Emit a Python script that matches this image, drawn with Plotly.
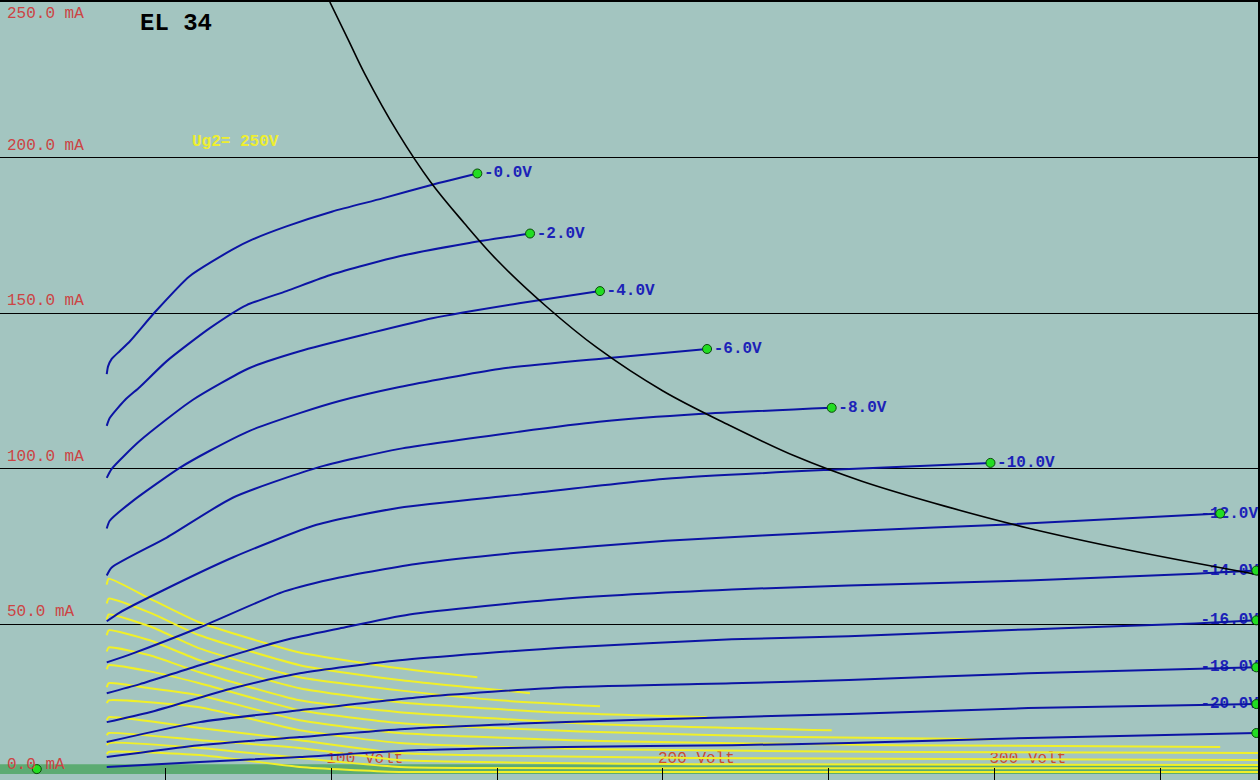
import plotly.graph_objects as go

# ---------------- data ----------------
GRID_VOLTS = [0, -2, -4, -6, -8, -10, -12, -14, -16, -18, -20, -22]

# anode current Ia (mA) versus anode voltage Va (V), Ug2 = 250 V
VA_G0 = [32.2, 32.6, 33.7, 36.1, 39.2, 46.7, 57.2, 70.2, 76.2, 86.4, 100.3, 115.4, 130.4, 144.0]
IA_G0 = [130.4, 132.9, 135.3, 137.8, 141.0, 150.3, 161.9, 170.5, 173.7, 177.9, 182.7, 186.9, 191.3, 194.9]
VA_G2 = [32.2, 33.1, 37.7, 42.2, 50.3, 63.3, 74.4, 86.4, 100.3, 120.5, 140.7, 159.9]
IA_G2 = [113.8, 116.3, 122.1, 126.3, 134.6, 145.2, 152.6, 157.1, 162.5, 168.3, 172.4, 175.6]
VA_G4 = [32.2, 33.7, 42.2, 58.1, 75.3, 90.4, 110.5, 130.4, 156.6, 181.0]
IA_G4 = [97.1, 100.0, 109.0, 122.1, 132.4, 137.8, 143.3, 148.4, 153.2, 157.1]
VA_G6 = [32.2, 33.1, 40.1, 54.2, 63.3, 75.3, 90.4, 102.4, 120.5, 150.6, 183.7, 213.3]
IA_G6 = [80.8, 83.3, 89.7, 100.3, 105.8, 112.2, 117.9, 121.8, 126.3, 132.1, 135.6, 138.5]
VA_G8 = [32.2, 33.7, 50.3, 70.2, 95.5, 120.5, 156.6, 180.7, 210.8, 250.9]
IA_G8 = [65.7, 68.3, 77.9, 90.7, 100.3, 106.4, 111.9, 115.1, 117.6, 119.6]
VA_G10 = [32.2, 36.1, 49.1, 70.2, 95.5, 120.5, 156.6, 200.9, 250.9, 298.8]
IA_G10 = [51.0, 53.8, 60.9, 71.5, 82.0, 87.5, 91.7, 96.8, 99.7, 101.9]
VA_G12 = [32.2, 40.1, 60.2, 85.8, 102.4, 126.5, 156.6, 200.9, 259.0, 304.2, 368.1]
IA_G12 = [37.8, 40.7, 49.0, 60.6, 65.1, 69.6, 73.1, 76.9, 80.1, 82.1, 85.6]
VA_G14 = [32.2, 42.2, 60.2, 85.8, 102.4, 123.5, 170.8, 220.8, 256.0, 310.2, 360.5, 379.0]
IA_G14 = [27.9, 30.8, 36.9, 44.9, 48.7, 53.2, 58.3, 61.2, 62.5, 64.1, 66.3, 67.3]
VA_G16 = [32.2, 45.2, 70.2, 90.4, 120.5, 170.8, 220.8, 256.0, 310.2, 360.5, 379.0]
IA_G16 = [18.6, 21.8, 29.5, 34.3, 38.5, 42.6, 45.2, 46.2, 48.4, 50.3, 51.3]
VA_G18 = [32.2, 60.2, 90.4, 126.5, 170.8, 220.8, 256.0, 310.2, 379.0]
IA_G18 = [12.2, 18.6, 22.4, 26.6, 29.8, 31.1, 32.1, 34.3, 36.2]
VA_G20 = [32.2, 60.2, 90.4, 126.5, 170.8, 220.8, 256.0, 310.2, 379.0]
IA_G20 = [7.4, 11.2, 13.8, 16.7, 18.6, 20.2, 21.2, 23.1, 24.4]
VA_G22 = [32.2, 60.2, 90.4, 126.5, 170.8, 220.8, 256.0, 310.2, 379.0]
IA_G22 = [4.2, 5.8, 7.4, 9.6, 10.6, 11.2, 11.9, 13.5, 15.1]

# screen-grid current Ig2 (mA) versus anode voltage Va (V)
YV_G0 = [32.2, 32.8, 45.2, 60.2, 90.4, 120.5, 144.0]
YI_G0 = [62.8, 64.7, 58.3, 50.6, 41.0, 35.9, 33.0]
YV_G2 = [32.2, 32.8, 45.2, 60.2, 90.4, 120.5, 159.9]
YI_G2 = [56.7, 58.3, 53.8, 46.5, 36.9, 32.1, 27.9]
YV_G4 = [32.2, 32.8, 45.2, 60.2, 90.4, 120.5, 150.6, 181.0]
YI_G4 = [51.6, 53.2, 49.4, 42.3, 33.0, 28.8, 25.6, 23.7]
YV_G6 = [32.2, 32.8, 45.2, 60.2, 90.4, 120.5, 165.7, 213.3]
YI_G6 = [46.5, 48.1, 44.9, 38.5, 29.5, 25.0, 21.8, 20.2]
YV_G8 = [32.2, 32.8, 45.2, 60.2, 90.4, 120.5, 180.7, 250.9]
YI_G8 = [41.3, 42.6, 40.1, 34.6, 25.6, 21.8, 17.9, 16.0]
YV_G10 = [32.2, 32.8, 45.2, 60.2, 90.4, 120.5, 180.7, 241.0, 298.8]
YI_G10 = [35.6, 36.9, 34.9, 31.1, 22.4, 18.3, 15.4, 13.8, 13.1]
YV_G12 = [32.2, 32.8, 45.2, 60.2, 90.4, 120.5, 180.7, 271.1, 368.1]
YI_G12 = [29.8, 31.1, 29.5, 27.2, 19.2, 15.1, 12.5, 11.2, 10.6]
YV_G14 = [32.2, 32.8, 60.2, 90.4, 120.5, 180.7, 271.1, 379.5]
YI_G14 = [24.7, 25.6, 23.4, 16.0, 11.9, 9.9, 9.0, 8.7]
YV_G16 = [32.2, 32.8, 60.2, 90.4, 120.5, 210.8, 379.5]
YI_G16 = [19.2, 20.2, 16.7, 12.8, 8.7, 7.1, 6.4]
YV_G18 = [32.2, 32.8, 60.2, 90.4, 120.5, 210.8, 379.5]
YI_G18 = [14.4, 15.1, 12.8, 10.3, 6.4, 5.1, 4.8]
YV_G20 = [32.2, 32.8, 60.2, 90.4, 120.5, 210.8, 379.5]
YI_G20 = [11.2, 11.9, 10.3, 7.1, 4.2, 3.8, 3.8]
YV_G22 = [32.2, 32.8, 60.2, 90.4, 120.5, 379.5]
YI_G22 = [8.3, 9.0, 8.0, 4.2, 2.6, 2.6]

# maximum anode dissipation curve
PMAX_V = [99.5, 105, 110, 120, 130, 140, 150, 165, 180, 200, 220, 240, 260, 285, 310, 340, 379.5]
PMAX_I = [250, 238, 227, 208, 192, 179, 167, 152, 139, 125, 114, 104, 96, 88, 81, 74, 66]

# stray marker near the origin
LONE_DOT_V = [11.1]
LONE_DOT_I = [3.5]

X_TICK_VALUES = [100, 200, 300]
X_TICK_LABELS = ["100 Volt", "200 Volt", "300 Volt"]
Y_TICK_VALUES = [0, 50, 100, 150, 200, 250]
Y_TICK_LABELS = ["0.0 mA", "50.0 mA", "100.0 mA", "150.0 mA", "200.0 mA", "250.0 mA"]

TITLE = "EL 34"
SCREEN_TEXT = "Ug2= 250V"

# ---------------- styling ----------------
X_MAX = 379.5
Y_MAX = 250
BG = "#a3c5c0"
BLUE = "#0c14a4"
LABEL_BLUE = "#1c22b8"
YELLOW = "#f0f028"
RED = "#cc4444"
DOT = "#22dd22"
FONT = "Liberation Mono, DejaVu Sans Mono, monospace"

anode_v = [VA_G0, VA_G2, VA_G4, VA_G6, VA_G8, VA_G10, VA_G12, VA_G14, VA_G16, VA_G18, VA_G20, VA_G22]
anode_i = [IA_G0, IA_G2, IA_G4, IA_G6, IA_G8, IA_G10, IA_G12, IA_G14, IA_G16, IA_G18, IA_G20, IA_G22]
screen_v = [YV_G0, YV_G2, YV_G4, YV_G6, YV_G8, YV_G10, YV_G12, YV_G14, YV_G16, YV_G18, YV_G20, YV_G22]
screen_i = [YI_G0, YI_G2, YI_G4, YI_G6, YI_G8, YI_G10, YI_G12, YI_G14, YI_G16, YI_G18, YI_G20, YI_G22]

fig = go.Figure()

# x-axis "Volt" labels (drawn first so curves pass over them)
fig.add_trace(go.Scatter(
    x=[v - 1.5 for v in X_TICK_VALUES], y=[6.7] * len(X_TICK_VALUES),
    mode="text", text=X_TICK_LABELS, textposition="middle right",
    textfont=dict(family=FONT, size=16, color="#c84a34"),
    hoverinfo="skip", showlegend=False, cliponaxis=False))

# curve labels: normal ones next to the end dot, overflowing ones right-aligned at the edge
label_char_w = 9.8 / 3.32  # approx. width of one character in volts
norm_x, norm_y, norm_t = [], [], []
edge_y, edge_t = [], []
for g, vx, iy in zip(GRID_VOLTS[:-1], anode_v[:-1], anode_i[:-1]):
    txt = f"<b>-{abs(g):.1f}V</b>"
    if vx[-1] + 3 + 6 * label_char_w > X_MAX:
        edge_y.append(iy[-1]); edge_t.append(txt)
    else:
        norm_x.append(vx[-1]); norm_y.append(iy[-1]); norm_t.append(txt)

fig.add_trace(go.Scatter(
    x=[X_MAX] * len(edge_y), y=edge_y, mode="text", text=edge_t,
    textposition="middle left",
    textfont=dict(family=FONT, size=16, color=LABEL_BLUE),
    hoverinfo="skip", showlegend=False, cliponaxis=False))

# screen-grid current curves
for vx, iy in zip(screen_v, screen_i):
    fig.add_trace(go.Scatter(x=vx, y=iy, mode="lines",
                             line=dict(color=YELLOW, width=2, shape="spline", smoothing=0.5),
                             hoverinfo="skip", showlegend=False))

# anode current curves
for g, vx, iy in zip(GRID_VOLTS, anode_v, anode_i):
    fig.add_trace(go.Scatter(x=vx, y=iy, mode="lines", name=f"Ug1={g} V",
                             line=dict(color=BLUE, width=2, shape="spline", smoothing=0.6),
                             showlegend=False))

# max dissipation hyperbola
fig.add_trace(go.Scatter(x=PMAX_V, y=PMAX_I, mode="lines",
                         line=dict(color="black", width=1.6, shape="spline", smoothing=1.0),
                         hoverinfo="skip", showlegend=False))

# end dots
edge_dot_x = [vx[-1] for vx in anode_v if vx[-1] not in norm_x]
edge_dot_y = [iy[-1] for vx, iy in zip(anode_v, anode_i) if vx[-1] not in norm_x]
fig.add_trace(go.Scatter(
    x=edge_dot_x + LONE_DOT_V, y=edge_dot_y + LONE_DOT_I, mode="markers",
    marker=dict(size=9, color=DOT, line=dict(color="#0b4a0b", width=1)),
    hoverinfo="skip", showlegend=False))
fig.add_trace(go.Scatter(
    x=norm_x, y=norm_y, mode="markers+text", text=norm_t, textposition="middle right",
    marker=dict(size=9, color=DOT, line=dict(color="#0b4a0b", width=1)),
    textfont=dict(family=FONT, size=16, color=LABEL_BLUE),
    hoverinfo="skip", showlegend=False, cliponaxis=False))

annotations = []
for v, t in zip(Y_TICK_VALUES, Y_TICK_LABELS):
    shift = 12
    if v == Y_MAX:
        shift = -12
    elif v == 0:
        shift = 15
    annotations.append(dict(x=1.5, y=v, xref="x", yref="y", text=t, showarrow=False,
                            xanchor="left", yanchor="middle", yshift=shift,
                            font=dict(family=FONT, size=16, color=RED)))
annotations.append(dict(x=0.14, y=0.972, xref="paper", yref="paper", text=f"<b>{TITLE}</b>",
                        showarrow=False, xanchor="center", yanchor="middle",
                        font=dict(family=FONT, size=24, color="black")))
annotations.append(dict(x=0.0, y=200, xref="x", yref="y", text=f"<b>{SCREEN_TEXT}</b>",
                        showarrow=False, xanchor="left", yanchor="middle",
                        xshift=190, yshift=16,
                        font=dict(family=FONT, size=16, color="#eeee30")))

fig.update_layout(
    width=1260, height=780, autosize=False,
    margin=dict(l=0, r=0, t=0, b=0, pad=0),
    plot_bgcolor=BG, paper_bgcolor=BG,
    annotations=annotations,
    shapes=[dict(type="rect", xref="paper", yref="y", x0=0, x1=1, y0=1.9, y1=5.1,
                 fillcolor="#5cab72", line=dict(width=0), layer="below")],
    xaxis=dict(range=[0, X_MAX], showgrid=False, zeroline=False, showticklabels=False,
               ticks="inside", ticklen=12, tickcolor="black", tickwidth=1,
               tick0=0, dtick=50, showline=True, linecolor="black", linewidth=2, mirror=True),
    yaxis=dict(range=[0, Y_MAX], showgrid=True, gridcolor="black", gridwidth=1,
               dtick=50, zeroline=False, showticklabels=False, ticks="",
               showline=True, linecolor="black", linewidth=2, mirror=True),
)

fig.write_html("out.html", config={"displayModeBar": False},
               post_script="document.body.style.margin='0';document.body.style.overflow='hidden';")
